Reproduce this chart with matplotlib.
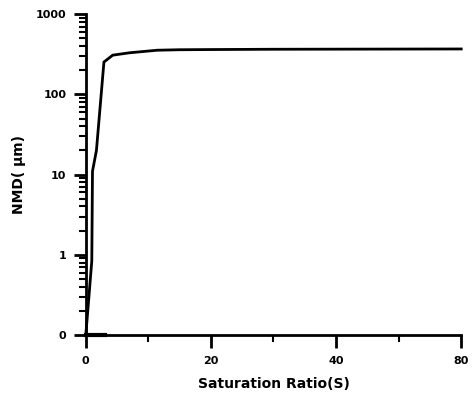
import matplotlib
matplotlib.use("Agg")
import matplotlib.pyplot as plt
from matplotlib.ticker import FixedLocator, FixedFormatter, LogLocator, NullFormatter

# Data
sat_ratio = [0, 0.5, 0.96, 1.07, 1.7, 2.9, 4.3, 7, 11.4, 15, 20, 30, 40, 50, 60]
nmd_um = [0.1, 0.3, 0.84, 11, 20, 253, 308, 330, 355, 360, 362, 365, 366, 367, 368]

base_x = [0, 3]
base_y = [0.1, 0.1]

x_tick_pos = [0, 20, 40, 60]
x_tick_labels = ["0", "20", "40", "80"]
x_minor = [10, 30, 50]
y_tick_pos = [0.1, 1, 10, 100, 1000]
y_tick_labels = ["0", "1", "10", "100", "1000"]

plt.rcParams['font.family'] = ['DejaVu Sans']

fig = plt.figure(figsize=(4.74, 3.93), dpi=100)
ax = fig.add_axes([0.181, 0.1476, 0.792, 0.8164])

ax.plot(sat_ratio, nmd_um, color='black', lw=2.0, solid_joinstyle='miter', clip_on=False)
ax.plot(base_x, base_y, color='black', lw=3.0, clip_on=False)

ax.set_yscale('log')
ax.set_xlim(0, 60)
ax.set_ylim(0.1, 1000)

ax.xaxis.set_major_locator(FixedLocator(x_tick_pos))
ax.xaxis.set_major_formatter(FixedFormatter(x_tick_labels))
ax.xaxis.set_minor_locator(FixedLocator(x_minor))

ax.yaxis.set_major_locator(FixedLocator(y_tick_pos))
ax.yaxis.set_major_formatter(FixedFormatter(y_tick_labels))
ax.yaxis.set_minor_locator(LogLocator(base=10, subs=range(2, 10)))
ax.yaxis.set_minor_formatter(NullFormatter())

for s in ['top', 'right']:
    ax.spines[s].set_visible(False)
for s in ['left', 'bottom']:
    ax.spines[s].set_linewidth(2.0)

ax.tick_params(axis='both', which='major', direction='out', length=9, width=2.0,
               labelsize=8)
ax.tick_params(axis='x', which='major', pad=6)
ax.tick_params(axis='y', which='major', pad=5)
ax.tick_params(axis='both', which='minor', direction='out', length=5, width=1.5)
for lab in ax.get_xticklabels() + ax.get_yticklabels():
    lab.set_fontweight('bold')

ax.set_xlabel("Saturation Ratio(S)", fontsize=10, fontweight='bold', labelpad=8)
ax.set_ylabel("NMD( \u03bcm)", fontsize=10, fontweight='bold', labelpad=7)

fig.savefig("out.png", dpi=100)
